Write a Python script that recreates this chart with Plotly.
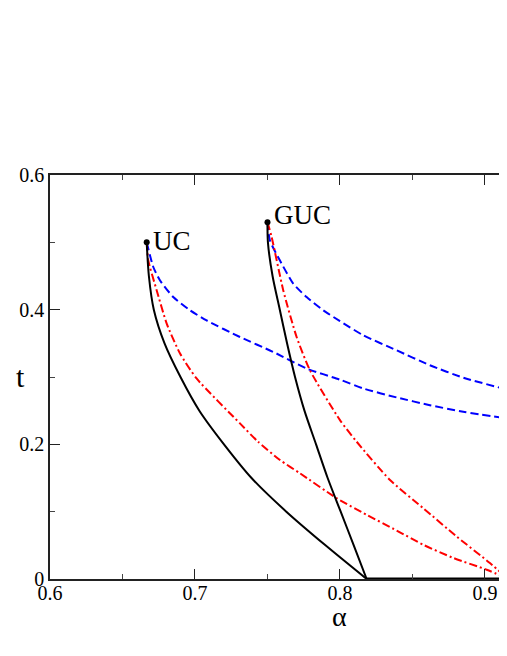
import plotly.graph_objects as go

# solid black boundaries (alpha, t)
uc_black_a = [0.6667, 0.6682, 0.6716, 0.6790, 0.6900, 0.7030, 0.7200, 0.7390, 0.7630, 0.7900, 0.8184]
uc_black_t = [0.5, 0.45, 0.40, 0.35, 0.30, 0.25, 0.20, 0.15, 0.10, 0.05, 0.0]
guc_black_a = [0.75, 0.7503, 0.7535, 0.7585, 0.7635, 0.769, 0.7755, 0.7835, 0.7915, 0.8005, 0.8095, 0.8184]
guc_black_t = [0.53, 0.50, 0.45, 0.40, 0.35, 0.30, 0.25, 0.20, 0.15, 0.10, 0.05, 0.0]
base_black_a = [0.8184, 0.93]
base_black_t = [0.0, 0.0]

# blue dashed
uc_blue_a = [0.6667, 0.6713, 0.6759, 0.685, 0.6966, 0.708, 0.731, 0.754, 0.777, 0.8, 0.816, 0.8391, 0.862, 0.885, 0.915]
uc_blue_t = [0.5, 0.463, 0.4434, 0.4187, 0.399, 0.384, 0.3594, 0.3372, 0.3126, 0.296, 0.283, 0.2696, 0.2582, 0.2483, 0.2385]
guc_blue_a = [0.75, 0.7517, 0.7586, 0.7678, 0.777, 0.7885, 0.8, 0.816, 0.839, 0.862, 0.885, 0.915]
guc_blue_t = [0.53, 0.5027, 0.473, 0.4385, 0.4187, 0.399, 0.383, 0.362, 0.3397, 0.3175, 0.299, 0.2815]

# red dash-dot
uc_red_a = [0.6667, 0.6678, 0.6736, 0.6805, 0.6897, 0.7011, 0.731, 0.7435, 0.7586, 0.7724,
            0.7977, 0.8184, 0.8391, 0.8575, 0.8785, 0.9012, 0.916]
uc_red_t = [0.5, 0.473, 0.4286, 0.3793, 0.3348, 0.2978, 0.2311, 0.2039, 0.1767, 0.157,
            0.12, 0.0953, 0.072, 0.0508, 0.031, 0.0138, 0.0]
guc_red_a = [0.75, 0.7529, 0.7609, 0.7701, 0.7793, 0.8, 0.8115, 0.8345, 0.8575, 0.8805, 0.9034, 0.916]
guc_red_t = [0.53, 0.5076, 0.4286, 0.3594, 0.31, 0.236, 0.2039, 0.147, 0.105, 0.063, 0.0237, 0.0]

# critical points
pt_names = ["UC", "GUC"]
pt_a = [0.6667, 0.75]
pt_t = [0.5, 0.53]

FONT = "Liberation Serif"
BLUE_DASH = "8px,4px"
RED_DASHDOT = "8px,3px,2px,3px"

fig = go.Figure()

for a, t in [(uc_blue_a, uc_blue_t), (guc_blue_a, guc_blue_t)]:
    fig.add_trace(go.Scatter(x=a, y=t, mode="lines", line_shape="spline",
                             line=dict(color="#0000ff", width=2, dash=BLUE_DASH, smoothing=0.6)))
for a, t in [(uc_red_a, uc_red_t), (guc_red_a, guc_red_t)]:
    fig.add_trace(go.Scatter(x=a, y=t, mode="lines", line_shape="spline",
                             line=dict(color="#ff0000", width=2, dash=RED_DASHDOT, smoothing=0.6)))
for a, t in [(uc_black_a, uc_black_t), (guc_black_a, guc_black_t)]:
    fig.add_trace(go.Scatter(x=a, y=t, mode="lines", line_shape="spline",
                             line=dict(color="black", width=2, smoothing=0.8)))
fig.add_trace(go.Scatter(x=base_black_a, y=base_black_t, mode="lines",
                         line=dict(color="black", width=3)))

fig.add_trace(go.Scatter(x=pt_a, y=pt_t, mode="markers",
                         marker=dict(color="black", size=6), cliponaxis=False))

for name, a, t, dx, dy in zip(pt_names, pt_a, pt_t, [4, 5], [1, 7]):
    fig.add_annotation(x=a, y=t, text=name, showarrow=False, xanchor="left",
                       yanchor="middle", xshift=dx, yshift=dy,
                       font=dict(family=FONT, size=27, color="black"))

# axis titles as annotations (t stays upright)
fig.add_annotation(x=0.8, y=0, yref="y", text="α", showarrow=False, yshift=-37,
                   font=dict(family=FONT, size=28, color="black"))
fig.add_annotation(x=0, xref="paper", y=0.3, text="t", showarrow=False, xshift=-36,
                   yshift=1, font=dict(family=FONT, size=30, color="black"))

# stray legend frame edge at the clipped right side
fig.add_shape(type="line", x0=0.9149, x1=0.9149, y0=0.395, y1=0.563,
              line=dict(color="#aaaaaa", width=1))

axis_style = dict(showline=True, linecolor="#222222", linewidth=1.5,
                  ticks="inside", ticklen=10, tickwidth=1.2, tickcolor="#222222",
                  showgrid=False, zeroline=False,
                  tickfont=dict(family=FONT, size=20, color="black"))

fig.update_xaxes(range=[0.6, 0.9152], dtick=0.1, tick0=0.6, mirror="ticks",
                 ticklabelstandoff=-5,
                 minor=dict(ticks="inside", ticklen=5, dtick=0.05, tick0=0.6,
                            tickcolor="#444444"),
                 **axis_style)
fig.update_yaxes(range=[0, 0.6], dtick=0.2, tick0=0,
                 minor=dict(ticks="inside", ticklen=5, dtick=0.1, tick0=0,
                            tickcolor="#444444"),
                 **axis_style)

# page body adds 8px around the div, so the figure is 8px smaller
fig.update_layout(width=499, height=648, showlegend=False,
                  paper_bgcolor="white", plot_bgcolor="white",
                  margin=dict(l=42, r=0, t=167, b=77))

fig.write_html("out.html")
